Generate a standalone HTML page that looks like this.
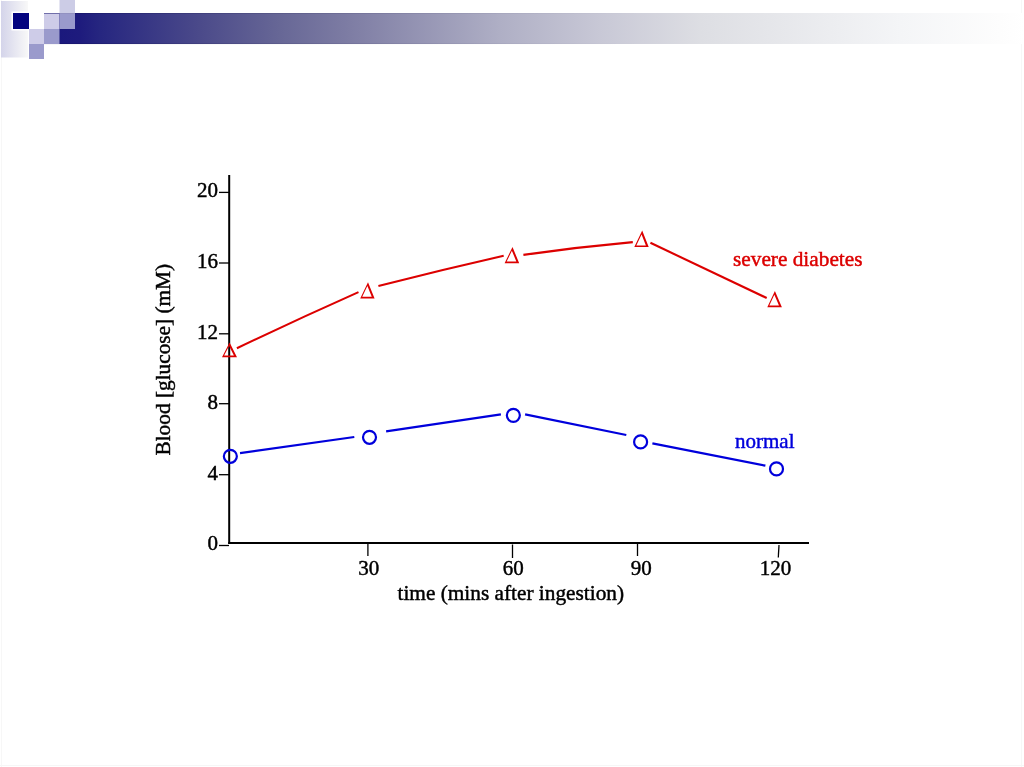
<!DOCTYPE html>
<html>
<head>
<meta charset="utf-8">
<style>
html,body{margin:0;padding:0;background:#fff;width:1024px;height:767px;overflow:hidden}
svg{position:absolute;left:0;top:0;display:block;will-change:transform}
text{font-family:"Liberation Serif",serif}
</style>
</head>
<body>
<svg width="1024" height="767" viewBox="0 0 1024 767">
<defs>
<linearGradient id="lg" x1="0" y1="0" x2="1" y2="0">
<stop offset="0" stop-color="#d4d4ea"/>
<stop offset="1" stop-color="#f8f8f8"/>
</linearGradient>
<linearGradient id="bar" gradientUnits="userSpaceOnUse" x1="0" y1="0" x2="1024" y2="0">
<stop offset="0.0430" stop-color="rgb(24, 22, 124)"/>
<stop offset="0.0781" stop-color="rgb(30, 27, 125)"/>
<stop offset="0.0977" stop-color="rgb(38, 38, 128)"/>
<stop offset="0.1953" stop-color="rgb(75, 74, 138)"/>
<stop offset="0.2734" stop-color="rgb(103, 103, 150)"/>
<stop offset="0.3418" stop-color="rgb(126, 125, 164)"/>
<stop offset="0.4883" stop-color="rgb(175, 175, 197)"/>
<stop offset="0.5859" stop-color="rgb(200, 200, 214)"/>
<stop offset="0.6836" stop-color="rgb(221, 222, 227)"/>
<stop offset="0.8789" stop-color="rgb(244, 245, 247)"/>
<stop offset="0.9766" stop-color="rgb(253, 253, 253)"/>
<stop offset="1.0000" stop-color="rgb(255, 255, 255)"/>
</linearGradient>
<linearGradient id="edge" x1="0" y1="0" x2="1" y2="0"><stop offset="0" stop-color="#000030" stop-opacity="0.2"/><stop offset="1" stop-color="#000030" stop-opacity="0"/></linearGradient>
</defs>
<rect x="0" y="0" width="1024" height="767" fill="#fff"/>
<rect x="1" y="0" width="1" height="767" fill="#f7f7f7"/>
<rect x="1021" y="0" width="1" height="767" fill="#f7f7f7"/>
<rect x="0" y="765" width="1024" height="1" fill="#f6f6f6"/>
<rect x="1" y="1" width="27" height="56.5" fill="url(#lg)"/>
<rect x="44" y="13" width="980" height="31" fill="url(#bar)"/>
<rect x="44" y="13" width="600" height="1" fill="url(#edge)"/>
<rect x="44" y="43.2" width="600" height="1" fill="url(#edge)"/>
<rect x="11.5" y="11.5" width="19" height="19" fill="#fff"/>
<rect x="13" y="13" width="16" height="16" fill="#03037f"/>
<rect x="29" y="29" width="15" height="15" fill="#cecce8"/>
<rect x="29" y="44" width="15" height="15" fill="#9a9acc"/>
<rect x="44" y="13.5" width="15.5" height="15.5" fill="#cecce8"/>
<rect x="59.5" y="13.5" width="15.5" height="15.5" fill="#9a9acc"/>
<rect x="44" y="29" width="15.5" height="15" fill="#9a9acc"/>
<rect x="59.5" y="0" width="15.5" height="13.5" fill="#ccccE6"/>

<g stroke="#000" fill="none">
<line x1="229.2" y1="175" x2="229.2" y2="544" stroke-width="2"/>
<line x1="228.2" y1="543" x2="809" y2="543" stroke-width="2.2"/>
<g stroke-width="1.3">
<line x1="219" y1="192.4" x2="229" y2="192.4"/>
<line x1="219" y1="263" x2="229" y2="263"/>
<line x1="219" y1="333.8" x2="229" y2="333.8"/>
<line x1="219" y1="403.7" x2="229" y2="403.7"/>
<line x1="219" y1="474.7" x2="229" y2="474.7"/>
<line x1="219" y1="545.5" x2="229" y2="545.5"/>
<line x1="367.9" y1="544" x2="367.9" y2="556"/>
<line x1="512.5" y1="544.5" x2="512.5" y2="558"/>
<line x1="637.5" y1="544" x2="637.5" y2="556"/>
<line x1="779" y1="545" x2="778.3" y2="557.5"/>
</g>
</g>

<g font-size="21" fill="#000" stroke="#000" stroke-width="0.45" text-anchor="end">
<text x="218" y="197">20</text>
<text x="218" y="267.5">16</text>
<text x="218" y="338.5">12</text>
<text x="218" y="408.5">8</text>
<text x="218" y="479.5">4</text>
<text x="218" y="550">0</text>
</g>
<g font-size="21" fill="#000" stroke="#000" stroke-width="0.45" text-anchor="middle">
<text x="368.7" y="574.8">30</text>
<text x="513.2" y="574.8">60</text>
<text x="641.2" y="574.8">90</text>
<text x="775.6" y="574.8">120</text>
</g>
<text font-size="21.3" x="397.5" y="599.5" fill="#000" stroke="#000" stroke-width="0.45">time (mins after ingestion)</text>
<text font-size="21.3" fill="#000" stroke="#000" stroke-width="0.45" transform="translate(169.5,455.5) rotate(-90)">Blood [glucose] (mM)</text>
<g stroke="#dc0000" stroke-width="2.1" fill="none" stroke-linecap="butt">
<path d="M236.9 348.3 Q298 319 358.5 292.1"/>
<path d="M378.4 286.1 Q441 270 503.7 255.8"/>
<path d="M523.4 254.9 Q578 247 632.8 242.1"/>
<path d="M650.4 242.8 Q708 270 766.7 298"/>
</g>
<text font-size="21.3" x="733" y="266.2" fill="#dc0000" stroke="#dc0000" stroke-width="0.45">severe diabetes</text>
<g fill="#dc0000" fill-rule="evenodd">
<path d="M229.60 342.60 L237.00 357.20 L222.00 357.20 Z M229.08 345.99 L224.13 355.50 L233.90 355.50 Z"/>
<path d="M368.00 282.30 L374.60 298.50 L360.20 298.50 Z M367.39 286.10 L362.24 296.80 L371.75 296.80 Z"/>
<path d="M512.50 247.00 L519.20 263.20 L504.60 263.20 Z M511.89 250.76 L506.65 261.50 L516.33 261.50 Z"/>
<path d="M642.20 230.50 L648.70 247.10 L634.30 247.10 Z M641.57 234.38 L636.33 245.40 L645.89 245.40 Z"/>
<path d="M774.90 291.10 L781.90 307.20 L767.30 307.20 Z M774.35 294.85 L769.32 305.50 L778.98 305.50 Z"/>
</g>
<g stroke="#0000dc" stroke-width="2.2" fill="none" stroke-linecap="butt">
<path d="M240 453.1 L354.3 437"/>
<path d="M386.1 431.3 L500.9 414.3"/>
<path d="M525.1 414.3 L626.3 435"/>
<path d="M652.4 443.4 L765.4 465.7"/>
</g>
<g stroke="#0000dc" stroke-width="2.2" fill="none">
<circle cx="230.35" cy="456.3" r="6.5"/>
<circle cx="369.5" cy="437.3" r="6.5"/>
<circle cx="513.35" cy="415.35" r="6.5"/>
<circle cx="640.6" cy="441.9" r="6.5"/>
<circle cx="776.5" cy="468.9" r="6.5"/>
</g>
<text font-size="21" x="735" y="447.7" fill="#0000dc" stroke="#0000dc" stroke-width="0.45">normal</text>
</svg>
</body>
</html>
